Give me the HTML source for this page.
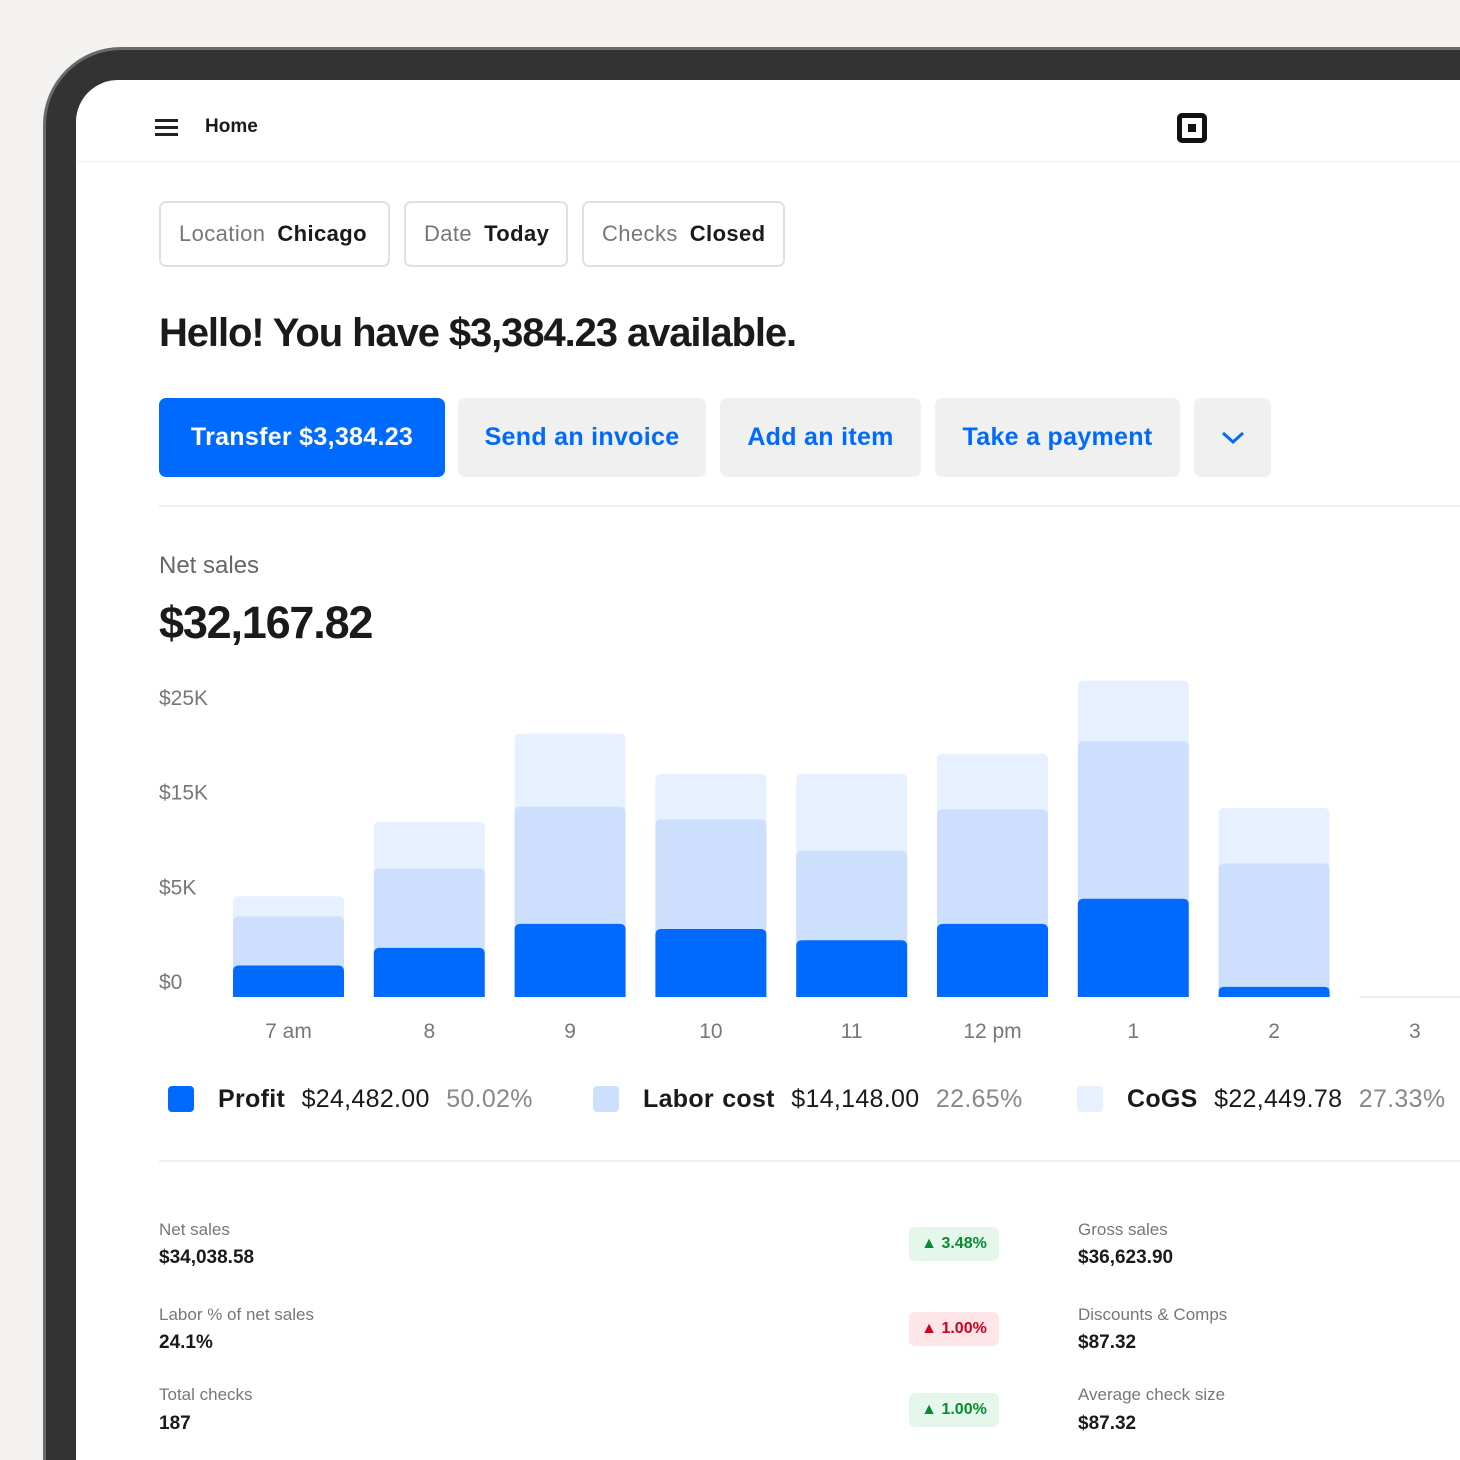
<!DOCTYPE html>
<html style="width:1460px;height:1460px;overflow:hidden"><head><meta charset="utf-8">
<style>
*{box-sizing:border-box;margin:0;padding:0}
html,body{width:1460px;height:1460px;overflow:hidden}
body{background:#f3f2f0;font-family:"Liberation Sans",sans-serif;color:#1a1a1a}
#wrap{position:relative;width:1460px;height:1460px;overflow:hidden}
.abs{position:absolute;white-space:nowrap}
#frame{position:absolute;left:43px;top:47px;width:1417px;height:1413px;background:#333;border-radius:78px 0 0 0;border:3px solid #6a6a6a;border-right:none;border-bottom:none}
#screen{position:absolute;left:76px;top:80px;width:1384px;height:1380px;background:#fff;border-radius:42px 0 0 0}
.chip{position:absolute;top:201px;height:66px;border:2px solid #e0e0e0;border-radius:7px;font-size:22px;line-height:62px;padding-left:18px;letter-spacing:0.4px}
.chip .k{color:#777}.chip .v{font-weight:bold;margin-left:12px}
.btn{position:absolute;top:398px;height:79px;border-radius:7px;background:#f0f0f0;color:#006aff;font-weight:bold;font-size:25px;line-height:79px;text-align:center;letter-spacing:0.3px}
.lbl{font-size:17px;color:#777}
.val{font-size:19px;font-weight:bold}
.badge{position:absolute;left:909px;width:90px;height:34px;border-radius:6px;font-size:16px;font-weight:bold;line-height:34px;text-align:center}
.g{background:#e5f6ea;color:#0b8a34}.r{background:#fde5e8;color:#d0021b}
.leg{position:absolute;top:1084px;font-size:25px;line-height:30px;letter-spacing:0.3px;word-spacing:1px}
.sq{position:absolute;top:1086px;width:26px;height:26px;border-radius:4px}
</style></head><body>
<div id="wrap">
<div id="frame"></div>
<div id="screen"></div>

<div class="abs" style="left:155px;top:119px;width:23px;height:16px">
 <div style="height:2.5px;background:#222;margin-bottom:4.5px"></div><div style="height:2.5px;background:#222;margin-bottom:4.5px"></div><div style="height:2.5px;background:#222"></div></div>
<div class="abs" style="left:205px;top:116px;font-size:19px;font-weight:bold">Home</div>
<div class="abs" style="left:1177px;top:113px;width:30px;height:30px;border:5px solid #111;border-radius:5px"><div style="position:absolute;left:6px;top:6px;width:8px;height:8px;background:#111"></div></div>
<div class="abs" style="left:76px;top:161px;width:1384px;height:1px;background:#efefef"></div>

<div class="chip" style="left:159px;width:231px"><span class="k">Location</span><span class="v">Chicago</span></div>
<div class="chip" style="left:404px;width:164px"><span class="k">Date</span><span class="v">Today</span></div>
<div class="chip" style="left:582px;width:203px"><span class="k">Checks</span><span class="v">Closed</span></div>

<div class="abs" style="left:159px;top:311px;font-size:40px;font-weight:bold;letter-spacing:-1.1px">Hello! You have $3,384.23 available.</div>

<div class="btn" style="left:159px;width:286px;background:#006aff;color:#fff">Transfer $3,384.23</div>
<div class="btn" style="left:458px;width:248px">Send an invoice</div>
<div class="btn" style="left:720px;width:201px">Add an item</div>
<div class="btn" style="left:935px;width:245px">Take a payment</div>
<div class="btn" style="left:1194px;width:77px"><svg width="24" height="14" viewBox="0 0 24 14" style="margin-top:32px"><path d="M2 2l10 9 10-9" fill="none" stroke="#006aff" stroke-width="3"/></svg></div>
<div class="abs" style="left:159px;top:505px;width:1301px;height:2px;background:#f0f0f0"></div>

<div class="abs" style="left:159px;top:552px;font-size:24px;color:#666">Net sales</div>
<div class="abs" style="left:159px;top:597px;font-size:45px;font-weight:bold;letter-spacing:-1.2px">$32,167.82</div>

<svg id="chart" class="abs" style="left:0;top:660px" width="1460" height="400"></svg>

<div class="sq" style="left:168px;background:#006aff"></div>
<div class="leg" style="left:218px"><b>Profit</b>&nbsp; $24,482.00&nbsp; <span style="color:#888">50.02%</span></div>
<div class="sq" style="left:593px;background:#cce0fe"></div>
<div class="leg" style="left:643px"><b>Labor cost</b>&nbsp; $14,148.00&nbsp; <span style="color:#888">22.65%</span></div>
<div class="sq" style="left:1077px;background:#e6f0fe"></div>
<div class="leg" style="left:1127px"><b>CoGS</b>&nbsp; $22,449.78&nbsp; <span style="color:#888">27.33%</span></div>
<div class="abs" style="left:159px;top:1160px;width:1301px;height:2px;background:#f0f0f0"></div>

<div class="abs lbl" style="left:159px;top:1220px">Net sales</div>
<div class="abs val" style="left:159px;top:1247px">$34,038.58</div>
<div class="badge g" style="top:1227px">▲ 3.48%</div>
<div class="abs lbl" style="left:1078px;top:1220px">Gross sales</div>
<div class="abs val" style="left:1078px;top:1247px">$36,623.90</div>

<div class="abs lbl" style="left:159px;top:1305px">Labor % of net sales</div>
<div class="abs val" style="left:159px;top:1332px">24.1%</div>
<div class="badge r" style="top:1312px">▲ 1.00%</div>
<div class="abs lbl" style="left:1078px;top:1305px">Discounts &amp; Comps</div>
<div class="abs val" style="left:1078px;top:1332px">$87.32</div>

<div class="abs lbl" style="left:159px;top:1385px">Total checks</div>
<div class="abs val" style="left:159px;top:1413px">187</div>
<div class="badge g" style="top:1393px">▲ 1.00%</div>
<div class="abs lbl" style="left:1078px;top:1385px">Average check size</div>
<div class="abs val" style="left:1078px;top:1413px">$87.32</div>
</div>
<script>
const categories=["7 am","8","9","10","11","12 pm","1","2","3"];
const profit=[2.5,3.9,5.8,5.4,4.5,5.8,7.8,0.8,0];
const labor=[3.9,6.3,9.3,8.7,7.1,9.1,12.5,9.8,0];
const cogs=[1.6,3.7,5.8,3.6,6.1,4.4,4.8,4.4,0];
const tickLabels=["$25K","$15K","$5K","$0"];
const svg=document.getElementById('chart');
const NS='http://www.w3.org/2000/svg';
const base=337, pxPerK=12.6, x0=288.5, step=140.8, bw=111;
const y=v=>base-v*pxPerK;
const xc=i=>x0+i*step;
function add(tag,attrs){const e=document.createElementNS(NS,tag);for(const k in attrs)e.setAttribute(k,attrs[k]);svg.appendChild(e);return e;}
tickLabels.forEach((t,i)=>{
 const e=add('text',{x:159,y:45+i*94.7,'font-size':21,fill:'#777','font-family':'Liberation Sans, sans-serif'});
 e.textContent=t;
 
 
});
function seg(x,top,bot,col,name){
 const h=bot-top; if(h<=0)return;
 const r=Math.min(6,h/2);
 const p=add('path',{d:`M${x},${bot}V${top+r}Q${x},${top} ${x+r},${top}H${x+bw-r}Q${x+bw},${top} ${x+bw},${top+r}V${bot}Z`,fill:col});
 
 
}
categories.forEach((c,i)=>{
 const x=xc(i)-bw/2;
 const t1=profit[i],t2=t1+labor[i],t3=t2+cogs[i];
 if(t3===0){
  const l=add('rect',{x:x,y:base-1,width:bw+40,height:2,fill:'#efefef'});
  
  
 }
 if(cogs[i]>0) seg(x,y(t3),y(t2)+6,'#e6f0fe','bar-cogs');
 if(labor[i]>0) seg(x,y(t2),y(t1)+6,'#cce0fe','bar-labor');
 if(profit[i]>0) seg(x,y(t1),base,'#006aff','bar-profit');
 const e=add('text',{x:xc(i),y:378,'font-size':21,fill:'#777','text-anchor':'middle','font-family':'Liberation Sans, sans-serif'});
 e.textContent=c;
 
 
});
</script>
</body></html>
